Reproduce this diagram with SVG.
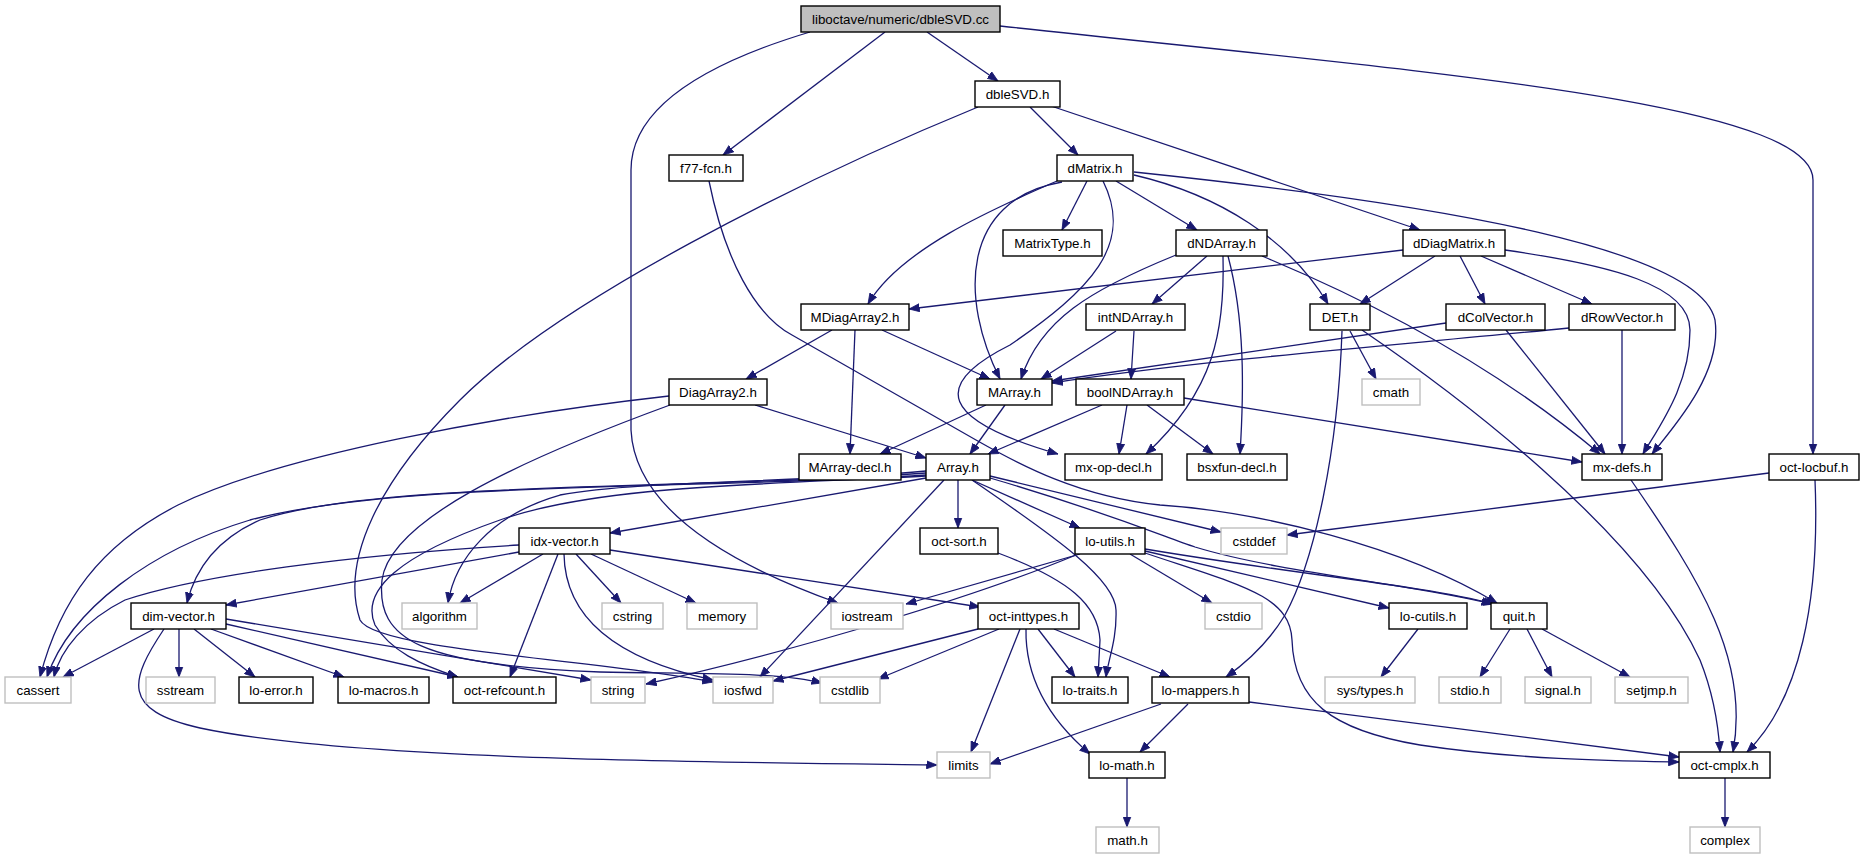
<svg xmlns="http://www.w3.org/2000/svg" width="1865" height="859" viewBox="0 0 1865 859">
<style>
.node rect{fill:#ffffff;stroke:#000000;stroke-width:1.4}
.sys rect{fill:#ffffff;stroke:#bfbfbf;stroke-width:1.4}
.root rect{fill:#bfbfbf;stroke:#000000;stroke-width:1.4}
text{font-family:"Liberation Sans",Arial,sans-serif;font-size:13.33px;fill:#000000;text-anchor:middle}
#edges path{fill:none;stroke:#191970;stroke-width:1.3;marker-end:url(#arr)}
</style>
<defs>
<marker id="arr" markerUnits="userSpaceOnUse" markerWidth="11" markerHeight="9" viewBox="0 0 11 9" refX="10.5" refY="4.5" orient="auto">
<path d="M0,0.5 L10.5,4.5 L0,8.5 z" fill="#191970" stroke="#191970" stroke-width="0.8"/>
</marker>
</defs>
<rect width="1865" height="859" fill="#ffffff"/>
<g id="edges">
<path d="M927,32 L998,81"/>
<path d="M885,32 L723,155"/>
<path d="M810,32 C700,65 631,110 631,170 L631,430 C634,490 690,550 838,603"/>
<path d="M1000,26 C1400,70 1813,100 1813,180 L1813,454"/>
<path d="M1030,107 L1078,155"/>
<path d="M1051,106 L1420,230"/>
<path d="M978,107 C800,180 560,300 460,400 C380,480 340,560 360,620 C375,650 600,660 713,682"/>
<path d="M709,181 C725,260 755,315 792,335 L976,440 C1020,465 1080,497 1160,505 C1260,512 1400,545 1497,603"/>
<path d="M1087,181 L1062,230"/>
<path d="M1116,181 L1197,230"/>
<path d="M1057,181 C990,210 900,250 868,304"/>
<path d="M1062,182 C960,200 960,300 1000,379"/>
<path d="M1103,181 C1135,245 1090,290 1010,345 C930,385 940,420 1058,454"/>
<path d="M1134,175 C1220,195 1290,240 1328,304"/>
<path d="M1134,172 C1450,205 1700,250 1715,320 C1722,370 1680,420 1652,454"/>
<path d="M1176,255 C1090,290 1040,320 1021,379"/>
<path d="M1207,256 L1152,304"/>
<path d="M1223,256 C1225,330 1215,390 1146,454"/>
<path d="M1228,256 C1245,320 1244,390 1240,454"/>
<path d="M1262,256 C1380,305 1500,370 1600,454"/>
<path d="M1403,250 L909,309"/>
<path d="M1435,256 L1360,304"/>
<path d="M1460,256 L1485,304"/>
<path d="M1481,256 L1592,304"/>
<path d="M1505,250 C1610,265 1690,285 1690,330 C1690,385 1660,425 1643,454"/>
<path d="M832,330 L746,379"/>
<path d="M855,330 L850,454"/>
<path d="M882,330 L990,379"/>
<path d="M1116,331 L1041,379"/>
<path d="M1134,331 L1131,379"/>
<path d="M1350,331 L1376,379"/>
<path d="M1342,331 C1338,450 1315,560 1285,615 C1270,640 1250,660 1226,677"/>
<path d="M1362,330 C1450,390 1640,530 1700,660 C1712,690 1718,720 1720,752"/>
<path d="M1446,323 L1052,381"/>
<path d="M1506,330 L1605,454"/>
<path d="M1569,328 C1400,345 1200,360 1052,383"/>
<path d="M1622,330 L1622,454"/>
<path d="M755,405 L926,458"/>
<path d="M669,396 C500,415 280,455 178,505 C100,545 60,600 40,677"/>
<path d="M670,405 C520,460 390,520 382,580 C376,640 420,665 600,672 C700,674 780,672 822,683"/>
<path d="M1005,405 L970,454"/>
<path d="M986,405 L880,454"/>
<path d="M1102,405 L988,454"/>
<path d="M1127,405 L1119,454"/>
<path d="M1147,405 L1213,454"/>
<path d="M1184,398 L1582,462"/>
<path d="M1769,473 L1287,535"/>
<path d="M1815,480 C1820,600 1800,700 1747,752"/>
<path d="M1631,480 C1700,580 1750,660 1733,752"/>
<path d="M926,478 L610,533"/>
<path d="M958,480 L958,528"/>
<path d="M972,480 L1080,528"/>
<path d="M990,476 L1221,532"/>
<path d="M990,478 C1100,510 1160,535 1195,547 C1280,573 1420,585 1492,604"/>
<path d="M972,480 C1060,540 1115,580 1116,610 C1117,640 1108,660 1106,677"/>
<path d="M944,480 L760,677"/>
<path d="M926,471 C800,483 640,480 560,495 C490,515 455,560 448,603"/>
<path d="M926,473 C700,490 380,480 260,520 C215,540 195,570 187,603"/>
<path d="M926,475 C700,490 400,480 250,520 C150,550 70,610 47,677"/>
<path d="M926,476 C760,485 600,485 500,520 C400,555 360,590 375,625 C390,650 420,665 458,677"/>
<path d="M519,545 C350,555 200,575 125,600 C85,620 60,650 54,677"/>
<path d="M519,552 L226,605"/>
<path d="M543,554 L460,603"/>
<path d="M558,554 L510,677"/>
<path d="M564,554 C565,620 620,660 713,680"/>
<path d="M576,554 L621,603"/>
<path d="M591,554 L696,603"/>
<path d="M610,550 L980,607"/>
<path d="M154,629 L63,677"/>
<path d="M179,629 L179,677"/>
<path d="M194,629 L255,677"/>
<path d="M211,629 L344,677"/>
<path d="M226,624 L458,677"/>
<path d="M226,619 L591,680"/>
<path d="M164,629 C130,680 120,710 200,728 C350,760 700,762 937,765"/>
<path d="M978,629 L773,681"/>
<path d="M999,629 L878,679"/>
<path d="M1020,629 L971,752"/>
<path d="M1026,629 C1025,680 1050,720 1090,754"/>
<path d="M1038,629 L1075,677"/>
<path d="M1054,629 L1170,677"/>
<path d="M1080,554 L906,604"/>
<path d="M1076,555 C980,595 800,650 646,684"/>
<path d="M1130,554 L1212,603"/>
<path d="M1145,551 L1389,608"/>
<path d="M1145,549 C1300,575 1420,585 1494,604"/>
<path d="M1145,553 C1240,585 1290,595 1292,640 C1294,700 1330,730 1420,745 C1520,760 1620,761 1679,762"/>
<path d="M998,553 C1070,580 1098,605 1100,640 L1098,677"/>
<path d="M1161,704 L990,764"/>
<path d="M1188,704 L1140,752"/>
<path d="M1249,702 L1679,757"/>
<path d="M1127,778 L1127,827"/>
<path d="M1725,778 L1725,827"/>
<path d="M1510,629 L1480,677"/>
<path d="M1527,629 L1552,677"/>
<path d="M1542,629 L1630,677"/>
<path d="M1418,629 L1381,677"/>
</g>
<g id="n-root" class="root"><rect x="801" y="6" width="199" height="26"/><text x="900.5" y="23.5">liboctave/numeric/dbleSVD.cc</text></g>
<g id="n-dbleSVD" class="node"><rect x="975" y="81" width="85" height="26"/><text x="1017.5" y="98.5">dbleSVD.h</text></g>
<g id="n-f77fcn" class="node"><rect x="669" y="155" width="74" height="26"/><text x="706" y="172.5">f77-fcn.h</text></g>
<g id="n-dMatrix" class="node"><rect x="1057" y="155" width="76" height="26"/><text x="1095" y="172.5">dMatrix.h</text></g>
<g id="n-MatrixType" class="node"><rect x="1003" y="230" width="99" height="26"/><text x="1052.5" y="247.5">MatrixType.h</text></g>
<g id="n-dNDArray" class="node"><rect x="1176" y="230" width="91" height="26"/><text x="1221.5" y="247.5">dNDArray.h</text></g>
<g id="n-dDiagMatrix" class="node"><rect x="1403" y="230" width="102" height="26"/><text x="1454" y="247.5">dDiagMatrix.h</text></g>
<g id="n-MDiagArray2" class="node"><rect x="801" y="304" width="108" height="26"/><text x="855" y="321.5">MDiagArray2.h</text></g>
<g id="n-intNDArray" class="node"><rect x="1086" y="304" width="99" height="26"/><text x="1135.5" y="321.5">intNDArray.h</text></g>
<g id="n-DET" class="node"><rect x="1310" y="304" width="60" height="26"/><text x="1340" y="321.5">DET.h</text></g>
<g id="n-dColVector" class="node"><rect x="1446" y="304" width="99" height="26"/><text x="1495.5" y="321.5">dColVector.h</text></g>
<g id="n-dRowVector" class="node"><rect x="1569" y="304" width="106" height="26"/><text x="1622" y="321.5">dRowVector.h</text></g>
<g id="n-DiagArray2" class="node"><rect x="669" y="379" width="98" height="26"/><text x="718" y="396.5">DiagArray2.h</text></g>
<g id="n-MArray" class="node"><rect x="977" y="379" width="75" height="26"/><text x="1014.5" y="396.5">MArray.h</text></g>
<g id="n-boolNDArray" class="node"><rect x="1076" y="379" width="108" height="26"/><text x="1130" y="396.5">boolNDArray.h</text></g>
<g id="n-cmath" class="sys"><rect x="1362" y="379" width="58" height="26"/><text x="1391" y="396.5">cmath</text></g>
<g id="n-MArray-decl" class="node"><rect x="799" y="454" width="102" height="26"/><text x="850" y="471.5">MArray-decl.h</text></g>
<g id="n-Array" class="node"><rect x="926" y="454" width="64" height="26"/><text x="958" y="471.5">Array.h</text></g>
<g id="n-mx-op-decl" class="node"><rect x="1065" y="454" width="97" height="26"/><text x="1113.5" y="471.5">mx-op-decl.h</text></g>
<g id="n-bsxfun-decl" class="node"><rect x="1187" y="454" width="100" height="26"/><text x="1237" y="471.5">bsxfun-decl.h</text></g>
<g id="n-mx-defs" class="node"><rect x="1582" y="454" width="80" height="26"/><text x="1622" y="471.5">mx-defs.h</text></g>
<g id="n-oct-locbuf" class="node"><rect x="1769" y="454" width="90" height="26"/><text x="1814" y="471.5">oct-locbuf.h</text></g>
<g id="n-idx-vector" class="node"><rect x="519" y="528" width="91" height="26"/><text x="564.5" y="545.5">idx-vector.h</text></g>
<g id="n-oct-sort" class="node"><rect x="920" y="528" width="78" height="26"/><text x="959" y="545.5">oct-sort.h</text></g>
<g id="n-lo-utils" class="node"><rect x="1075" y="528" width="70" height="26"/><text x="1110" y="545.5">lo-utils.h</text></g>
<g id="n-cstddef" class="sys"><rect x="1221" y="528" width="66" height="26"/><text x="1254" y="545.5">cstddef</text></g>
<g id="n-dim-vector" class="node"><rect x="131" y="603" width="95" height="26"/><text x="178.5" y="620.5">dim-vector.h</text></g>
<g id="n-algorithm" class="sys"><rect x="402" y="603" width="75" height="26"/><text x="439.5" y="620.5">algorithm</text></g>
<g id="n-cstring" class="sys"><rect x="602" y="603" width="61" height="26"/><text x="632.5" y="620.5">cstring</text></g>
<g id="n-memory" class="sys"><rect x="687" y="603" width="70" height="26"/><text x="722" y="620.5">memory</text></g>
<g id="n-iostream" class="sys"><rect x="831" y="603" width="72" height="26"/><text x="867" y="620.5">iostream</text></g>
<g id="n-oct-inttypes" class="node"><rect x="978" y="603" width="101" height="26"/><text x="1028.5" y="620.5">oct-inttypes.h</text></g>
<g id="n-cstdio" class="sys"><rect x="1205" y="603" width="57" height="26"/><text x="1233.5" y="620.5">cstdio</text></g>
<g id="n-lo-cutils" class="node"><rect x="1389" y="603" width="78" height="26"/><text x="1428" y="620.5">lo-cutils.h</text></g>
<g id="n-quit" class="node"><rect x="1491" y="603" width="56" height="26"/><text x="1519" y="620.5">quit.h</text></g>
<g id="n-cassert" class="sys"><rect x="5" y="677" width="66" height="26"/><text x="38" y="694.5">cassert</text></g>
<g id="n-sstream" class="sys"><rect x="146" y="677" width="69" height="26"/><text x="180.5" y="694.5">sstream</text></g>
<g id="n-lo-error" class="node"><rect x="239" y="677" width="74" height="26"/><text x="276" y="694.5">lo-error.h</text></g>
<g id="n-lo-macros" class="node"><rect x="338" y="677" width="91" height="26"/><text x="383.5" y="694.5">lo-macros.h</text></g>
<g id="n-oct-refcount" class="node"><rect x="453" y="677" width="103" height="26"/><text x="504.5" y="694.5">oct-refcount.h</text></g>
<g id="n-string" class="sys"><rect x="591" y="677" width="54" height="26"/><text x="618" y="694.5">string</text></g>
<g id="n-iosfwd" class="sys"><rect x="713" y="677" width="60" height="26"/><text x="743" y="694.5">iosfwd</text></g>
<g id="n-cstdlib" class="sys"><rect x="820" y="677" width="60" height="26"/><text x="850" y="694.5">cstdlib</text></g>
<g id="n-lo-traits" class="node"><rect x="1052" y="677" width="76" height="26"/><text x="1090" y="694.5">lo-traits.h</text></g>
<g id="n-lo-mappers" class="node"><rect x="1152" y="677" width="97" height="26"/><text x="1200.5" y="694.5">lo-mappers.h</text></g>
<g id="n-sys-types" class="sys"><rect x="1325" y="677" width="90" height="26"/><text x="1370" y="694.5">sys/types.h</text></g>
<g id="n-stdio" class="sys"><rect x="1439" y="677" width="62" height="26"/><text x="1470" y="694.5">stdio.h</text></g>
<g id="n-signal" class="sys"><rect x="1525" y="677" width="66" height="26"/><text x="1558" y="694.5">signal.h</text></g>
<g id="n-setjmp" class="sys"><rect x="1615" y="677" width="73" height="26"/><text x="1651.5" y="694.5">setjmp.h</text></g>
<g id="n-limits" class="sys"><rect x="937" y="752" width="53" height="26"/><text x="963.5" y="769.5">limits</text></g>
<g id="n-lo-math" class="node"><rect x="1089" y="752" width="76" height="26"/><text x="1127" y="769.5">lo-math.h</text></g>
<g id="n-oct-cmplx" class="node"><rect x="1679" y="752" width="91" height="26"/><text x="1724.5" y="769.5">oct-cmplx.h</text></g>
<g id="n-math" class="sys"><rect x="1096" y="827" width="63" height="26"/><text x="1127.5" y="844.5">math.h</text></g>
<g id="n-complex" class="sys"><rect x="1690" y="827" width="70" height="26"/><text x="1725" y="844.5">complex</text></g>
</svg>
